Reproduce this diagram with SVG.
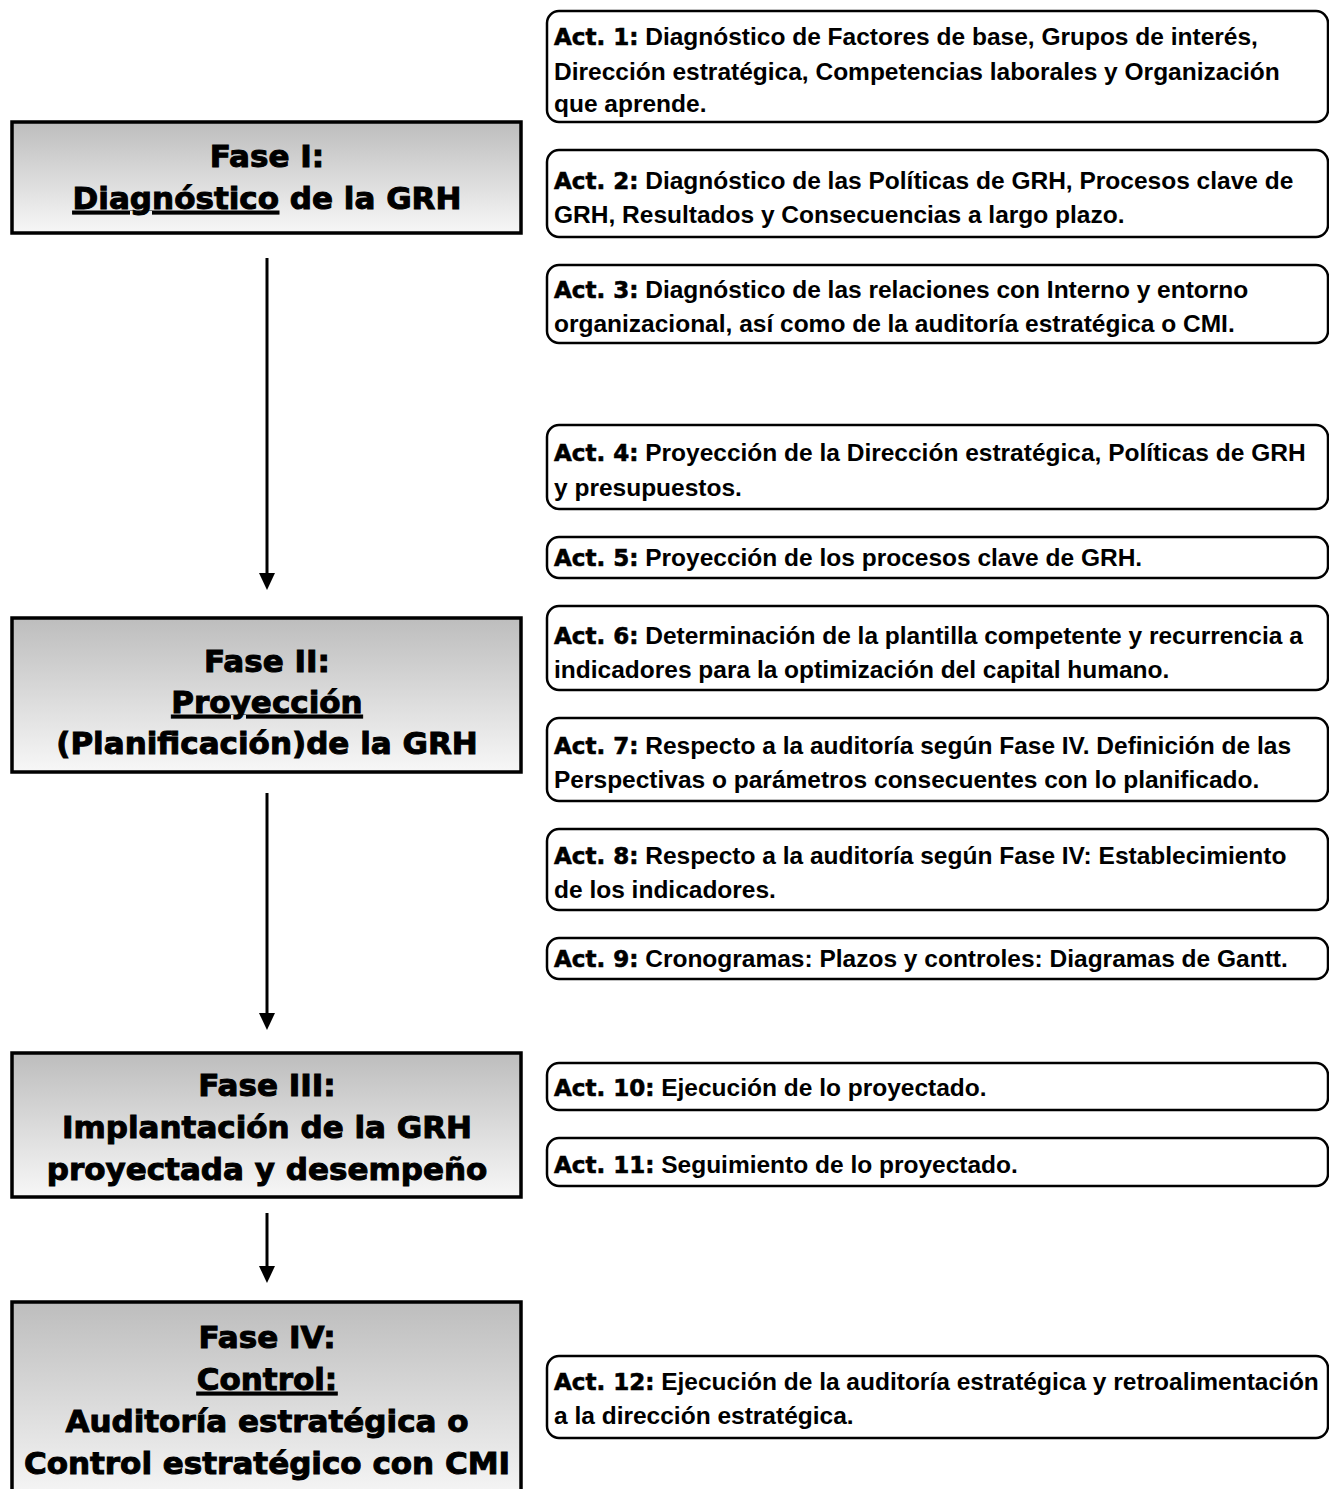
<svg xmlns="http://www.w3.org/2000/svg" width="1329" height="1489" viewBox="0 0 1329 1489">
<style>
.phase rect{fill:url(#phaseFill);stroke:#000;stroke-width:3.5}
.ph{font-family:"DejaVu Sans","Liberation Sans",Arial,sans-serif;font-weight:bold;font-size:31px;text-anchor:middle;fill:#000;stroke:#000;stroke-width:1}
.act rect.box{fill:#fff;stroke:#000;stroke-width:2.5}
.at{font-family:"Liberation Sans",Arial,sans-serif;font-weight:bold;font-size:24.5px;fill:#000}
.lab{font-family:"DejaVu Sans","Liberation Sans",Arial,sans-serif;font-size:23px;stroke:#000;stroke-width:0.6}
.u{text-decoration:underline}
#connectors line{stroke:#000;stroke-width:3;marker-end:url(#tri)}
</style>
<defs>
<linearGradient id="phaseFill" x1="0" y1="0" x2="0" y2="1">
<stop offset="0" stop-color="#bdbdbd"/>
<stop offset="1" stop-color="#f7f7f7"/>
</linearGradient>
<marker id="tri" markerWidth="16" markerHeight="17" refX="8" refY="3" orient="0" markerUnits="userSpaceOnUse" viewBox="0 0 16 17">
<path d="M0,0 L16,0 L8,17 Z" fill="#000"/>
</marker>
</defs>

<!-- phases -->
<g id="fase1" class="phase">
<rect x="12" y="122" width="509" height="111"/>
<text class="ph" x="267" y="167">Fase I:</text>
<text class="ph" x="267" y="209"><tspan class="u">Diagnóstico</tspan> de la GRH</text>
</g>
<g id="fase2" class="phase">
<rect x="12" y="618" width="509" height="154"/>
<text class="ph" x="267" y="672">Fase II:</text>
<text class="ph" x="267" y="713"><tspan class="u">Proyección</tspan></text>
<text class="ph" x="267" y="754">(Planificación)de la GRH</text>
</g>
<g id="fase3" class="phase">
<rect x="12" y="1053" width="509" height="144"/>
<text class="ph" x="267" y="1096">Fase III:</text>
<text class="ph" x="267" y="1138">Implantación de la GRH</text>
<text class="ph" x="267" y="1180">proyectada y desempeño</text>
</g>
<g id="fase4" class="phase">
<rect x="12" y="1302" width="509" height="200"/>
<text class="ph" x="267" y="1348">Fase IV:</text>
<text class="ph" x="267" y="1390"><tspan class="u">Control:</tspan></text>
<text class="ph" x="267" y="1432">Auditoría estratégica o</text>
<text class="ph" x="267" y="1474">Control estratégico con CMI</text>
</g>

<!-- connectors -->
<g id="connectors">
<line x1="267" y1="258" x2="267" y2="576"/>
<line x1="267" y1="793" x2="267" y2="1016"/>
<line x1="267" y1="1213" x2="267" y2="1269"/>
</g>

<!-- activities -->
<g id="act1" class="act">
<rect class="box" x="547" y="11" width="781" height="111" rx="12"/>
<text class="at" x="554" y="45"><tspan class="lab">Act. 1:</tspan> Diagnóstico de Factores de base, Grupos de interés,</text>
<text class="at" x="554" y="80">Dirección estratégica, Competencias laborales y Organización</text>
<text class="at" x="554" y="112">que aprende.</text>
</g>
<g id="act2" class="act">
<rect class="box" x="547" y="150" width="781" height="87" rx="12"/>
<text class="at" x="554" y="189"><tspan class="lab">Act. 2:</tspan> Diagnóstico de las Políticas de GRH, Procesos clave de</text>
<text class="at" x="554" y="223">GRH, Resultados y Consecuencias a largo plazo.</text>
</g>
<g id="act3" class="act">
<rect class="box" x="547" y="265" width="781" height="78" rx="12"/>
<text class="at" x="554" y="298"><tspan class="lab">Act. 3:</tspan> Diagnóstico de las relaciones con Interno y entorno</text>
<text class="at" x="554" y="332">organizacional, así como de la auditoría estratégica o CMI.</text>
</g>
<g id="act4" class="act">
<rect class="box" x="547" y="425" width="781" height="84" rx="12"/>
<text class="at" x="554" y="461"><tspan class="lab">Act. 4:</tspan> Proyección de la Dirección estratégica, Políticas de GRH</text>
<text class="at" x="554" y="496">y presupuestos.</text>
</g>
<g id="act5" class="act">
<rect class="box" x="547" y="537" width="781" height="41" rx="12"/>
<text class="at" x="554" y="566"><tspan class="lab">Act. 5:</tspan> Proyección de los procesos clave de GRH.</text>
</g>
<g id="act6" class="act">
<rect class="box" x="547" y="606" width="781" height="84" rx="12"/>
<text class="at" x="554" y="644"><tspan class="lab">Act. 6:</tspan> Determinación de la plantilla competente y recurrencia a</text>
<text class="at" x="554" y="678">indicadores para la optimización del capital humano.</text>
</g>
<g id="act7" class="act">
<rect class="box" x="547" y="718" width="781" height="83" rx="12"/>
<text class="at" x="554" y="754"><tspan class="lab">Act. 7:</tspan> Respecto a la auditoría según Fase IV. Definición de las</text>
<text class="at" x="554" y="788">Perspectivas o parámetros consecuentes con lo planificado.</text>
</g>
<g id="act8" class="act">
<rect class="box" x="547" y="829" width="781" height="81" rx="12"/>
<text class="at" x="554" y="864"><tspan class="lab">Act. 8:</tspan> Respecto a la auditoría según Fase IV: Establecimiento</text>
<text class="at" x="554" y="898">de los indicadores.</text>
</g>
<g id="act9" class="act">
<rect class="box" x="547" y="938" width="781" height="41" rx="12"/>
<text class="at" x="554" y="967"><tspan class="lab">Act. 9:</tspan> Cronogramas: Plazos y controles: Diagramas de Gantt.</text>
</g>
<g id="act10" class="act">
<rect class="box" x="547" y="1063" width="781" height="47" rx="12"/>
<text class="at" x="554" y="1096"><tspan class="lab">Act. 10:</tspan> Ejecución de lo proyectado.</text>
</g>
<g id="act11" class="act">
<rect class="box" x="547" y="1138" width="781" height="48" rx="12"/>
<text class="at" x="554" y="1173"><tspan class="lab">Act. 11:</tspan> Seguimiento de lo proyectado.</text>
</g>
<g id="act12" class="act">
<rect class="box" x="547" y="1356" width="781" height="82" rx="12"/>
<text class="at" x="554" y="1390"><tspan class="lab">Act. 12:</tspan> Ejecución de la auditoría estratégica y retroalimentación</text>
<text class="at" x="554" y="1424">a la dirección estratégica.</text>
</g>
</svg>
